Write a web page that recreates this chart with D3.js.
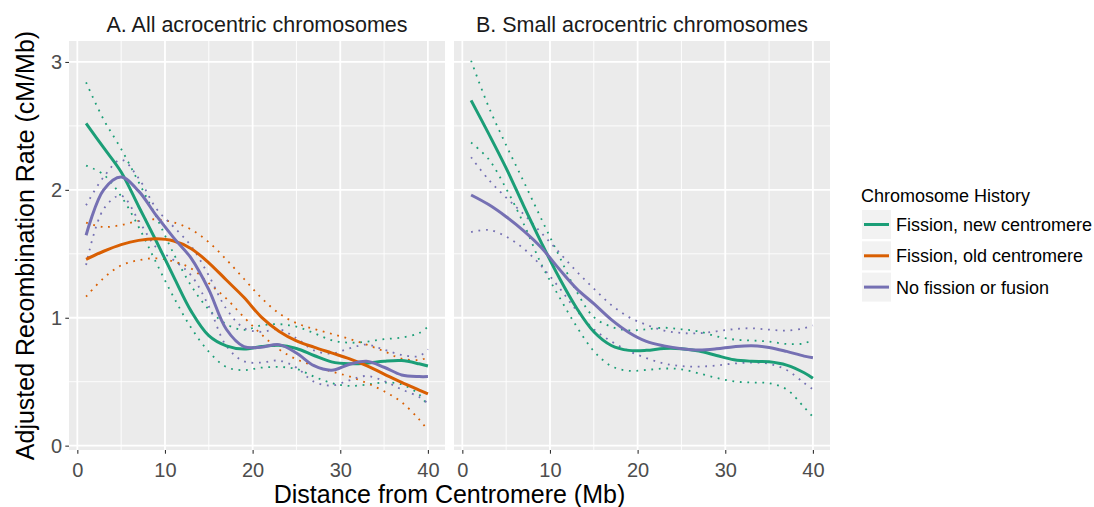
<!DOCTYPE html>
<html>
<head>
<meta charset="utf-8">
<script src="https://cdn.jsdelivr.net/npm/d3@7"></script>
<style>
  body { margin: 0; background: #fff; }
  svg { display: block; font-family: "Liberation Sans", Arial, Helvetica, sans-serif; }
</style>
</head>
<body>
<svg id="chart" width="1094" height="507"></svg>
<script>
/* Data: x positions (Mb) shared by every series */
var xs = [1, 3, 5, 7, 9, 11, 13, 15, 17, 19, 21, 23, 25, 27, 29, 31, 33, 35, 37, 39, 40];

var groups = ["Fission, new centromere", "Fission, old centromere", "No fission or fusion"];
var colors = ["#1B9E77", "#D95F02", "#7570B3"];
var panelTitles = ["A. All acrocentric chromosomes", "B. Small acrocentric chromosomes"];
var xTicks = [0, 10, 20, 30, 40];
var yTicks = [0, 1, 2, 3];

// Panel A - all acrocentric chromosomes
var aNewFit = [2.52, 2.33, 2.14, 1.87, 1.60, 1.32, 1.05, 0.86, 0.78, 0.755, 0.775, 0.785, 0.76, 0.705, 0.655, 0.64, 0.645, 0.66, 0.665, 0.64, 0.623];
var aNewUp  = [2.84, 2.55, 2.32, 2.06, 1.79, 1.50, 1.25, 1.065, 0.95, 0.905, 0.94, 0.95, 0.93, 0.88, 0.825, 0.805, 0.813, 0.833, 0.845, 0.88, 0.93];
var aNewLo  = [2.19, 2.12, 1.95, 1.71, 1.43, 1.16, 0.92, 0.735, 0.615, 0.59, 0.61, 0.615, 0.60, 0.54, 0.49, 0.467, 0.477, 0.493, 0.48, 0.40, 0.31];

var aOldFit = [1.457, 1.52, 1.572, 1.605, 1.617, 1.60, 1.54, 1.43, 1.295, 1.16, 1.005, 0.895, 0.82, 0.77, 0.725, 0.68, 0.625, 0.56, 0.495, 0.435, 0.404];
var aOldUp  = [1.744, 1.71, 1.725, 1.757, 1.77, 1.745, 1.69, 1.59, 1.455, 1.305, 1.155, 1.035, 0.958, 0.912, 0.875, 0.835, 0.79, 0.738, 0.68, 0.67, 0.688];
var aOldLo  = [1.165, 1.31, 1.41, 1.45, 1.465, 1.44, 1.385, 1.27, 1.15, 1.005, 0.87, 0.754, 0.675, 0.625, 0.58, 0.542, 0.49, 0.425, 0.34, 0.205, 0.12];

var aNoneFit = [1.645, 2.00, 2.10, 1.99, 1.80, 1.625, 1.465, 1.22, 0.91, 0.775, 0.77, 0.79, 0.725, 0.625, 0.59, 0.635, 0.66, 0.613, 0.553, 0.54, 0.54];
var aNoneUp  = [1.88, 2.10, 2.235, 2.09, 1.855, 1.71, 1.56, 1.33, 1.07, 0.92, 0.89, 0.91, 0.84, 0.745, 0.72, 0.76, 0.79, 0.75, 0.71, 0.70, 0.754];
var aNoneLo  = [1.413, 1.85, 1.955, 1.76, 1.55, 1.45, 1.33, 1.09, 0.78, 0.66, 0.65, 0.665, 0.61, 0.50, 0.47, 0.51, 0.545, 0.505, 0.44, 0.38, 0.33];

// Panel B - small acrocentric chromosomes (no "old centromere" group)
var bNewFit = [2.70, 2.44, 2.17, 1.875, 1.59, 1.32, 1.08, 0.89, 0.783, 0.745, 0.745, 0.76, 0.758, 0.74, 0.705, 0.672, 0.66, 0.656, 0.63, 0.57, 0.527];
var bNewUp  = [3.01, 2.65, 2.35, 2.065, 1.775, 1.49, 1.21, 1.005, 0.93, 0.902, 0.91, 0.922, 0.91, 0.893, 0.855, 0.83, 0.822, 0.814, 0.795, 0.80, 0.83];
var bNewLo  = [2.37, 2.24, 2.01, 1.735, 1.42, 1.17, 0.936, 0.74, 0.622, 0.585, 0.592, 0.603, 0.597, 0.565, 0.53, 0.502, 0.494, 0.488, 0.44, 0.30, 0.225];

var bNoneFit = [1.96, 1.885, 1.79, 1.68, 1.55, 1.385, 1.23, 1.11, 0.985, 0.885, 0.815, 0.78, 0.758, 0.748, 0.757, 0.774, 0.782, 0.768, 0.737, 0.70, 0.688];
var bNoneUp  = [2.255, 2.08, 1.94, 1.81, 1.665, 1.515, 1.365, 1.228, 1.10, 1.005, 0.945, 0.90, 0.881, 0.879, 0.894, 0.911, 0.918, 0.907, 0.90, 0.918, 0.94];
var bNoneLo  = [1.67, 1.687, 1.635, 1.54, 1.405, 1.24, 1.06, 0.91, 0.815, 0.74, 0.685, 0.642, 0.622, 0.618, 0.627, 0.642, 0.649, 0.64, 0.592, 0.49, 0.44];

var panels = [
  { title: panelTitles[0], left: 69, yAxis: true, series: [
      { g: 0, fit: aNewFit, up: aNewUp, lo: aNewLo },
      { g: 1, fit: aOldFit, up: aOldUp, lo: aOldLo },
      { g: 2, fit: aNoneFit, up: aNoneUp, lo: aNoneLo } ] },
  { title: panelTitles[1], left: 454, yAxis: false, series: [
      { g: 0, fit: bNewFit, up: bNewUp, lo: bNewLo },
      { g: 2, fit: bNoneFit, up: bNoneUp, lo: bNoneLo } ] }
];

var svg = d3.select("#chart");
var panelW = 376, panelTop = 41, panelBottom = 450;

var y = d3.scaleLinear().domain([-0.034, 3.164]).range([panelBottom, panelTop]);

function pts(vals) { return xs.map(function (d, i) { return [d, vals[i]]; }); }

panels.forEach(function (p) {
  var x = d3.scaleLinear().domain([-0.95, 41.95]).range([p.left, p.left + panelW]);
  var g = svg.append("g");

  // background
  g.append("rect")
    .attr("x", p.left).attr("y", panelTop)
    .attr("width", panelW).attr("height", panelBottom - panelTop)
    .attr("fill", "#EBEBEB");

  // minor grid
  g.selectAll(".mx").data([5, 15, 25, 35]).enter().append("line")
    .attr("x1", function (d) { return x(d); }).attr("x2", function (d) { return x(d); })
    .attr("y1", panelTop).attr("y2", panelBottom)
    .attr("stroke", "#fff").attr("stroke-width", 0.9);
  g.selectAll(".my").data([0.5, 1.5, 2.5]).enter().append("line")
    .attr("x1", p.left).attr("x2", p.left + panelW)
    .attr("y1", function (d) { return y(d); }).attr("y2", function (d) { return y(d); })
    .attr("stroke", "#fff").attr("stroke-width", 0.9);
  // major grid
  g.selectAll(".Mx").data(xTicks).enter().append("line")
    .attr("x1", function (d) { return x(d); }).attr("x2", function (d) { return x(d); })
    .attr("y1", panelTop).attr("y2", panelBottom)
    .attr("stroke", "#fff").attr("stroke-width", 1.8);
  g.selectAll(".My").data(yTicks).enter().append("line")
    .attr("x1", p.left).attr("x2", p.left + panelW)
    .attr("y1", function (d) { return y(d); }).attr("y2", function (d) { return y(d); })
    .attr("stroke", "#fff").attr("stroke-width", 1.8);

  var line = d3.line()
    .x(function (d) { return x(d[0]); })
    .y(function (d) { return y(d[1]); })
    .curve(d3.curveCatmullRom.alpha(0.5));

  // confidence bounds (dotted) first, fitted curves on top
  p.series.forEach(function (s) {
    [s.up, s.lo].forEach(function (v) {
      g.append("path")
        .attr("d", line(pts(v)))
        .attr("fill", "none")
        .attr("stroke", colors[s.g])
        .attr("stroke-width", 1.8)
        .attr("stroke-dasharray", "1.8,5.7");
    });
  });
  p.series.forEach(function (s) {
    g.append("path")
      .attr("d", line(pts(s.fit)))
      .attr("fill", "none")
      .attr("stroke", colors[s.g])
      .attr("stroke-width", 3);
  });

  // strip title
  svg.append("text")
    .attr("x", p.left + panelW / 2).attr("y", 32)
    .attr("text-anchor", "middle")
    .attr("font-size", "21.5px").attr("fill", "#1A1A1A")
    .text(p.title);

  // x axis
  var xa = svg.append("g")
    .attr("transform", "translate(0," + panelBottom + ")")
    .call(d3.axisBottom(x).tickValues(xTicks).tickFormat(d3.format("d")).tickSize(3.7).tickPadding(8.6));
  xa.select(".domain").remove();
  xa.selectAll(".tick line").attr("stroke", "#333333").attr("stroke-width", 1.1);
  xa.selectAll(".tick text").attr("fill", "#4D4D4D").attr("font-size", "20px")
    .attr("font-family", "Liberation Sans, Arial, sans-serif");

  if (p.yAxis) {
    var ya = svg.append("g")
      .attr("transform", "translate(" + p.left + ",0)")
      .call(d3.axisLeft(y).tickValues(yTicks).tickFormat(d3.format("d")).tickSize(3.7).tickPadding(3.3));
    ya.select(".domain").remove();
    ya.selectAll(".tick line").attr("stroke", "#333333").attr("stroke-width", 1.1);
    ya.selectAll(".tick text").attr("fill", "#4D4D4D").attr("font-size", "20px")
      .attr("font-family", "Liberation Sans, Arial, sans-serif");
  }
});

// axis titles
svg.append("text")
  .attr("x", 449.5).attr("y", 502.5)
  .attr("text-anchor", "middle")
  .attr("font-size", "25px").attr("fill", "#000")
  .text("Distance from Centromere (Mb)");

svg.append("text")
  .attr("transform", "translate(33.5," + (panelTop + panelBottom) / 2 + ") rotate(-90)")
  .attr("text-anchor", "middle")
  .attr("font-size", "25px").attr("fill", "#000")
  .text("Adjusted Recombination Rate (cM/Mb)");

// legend
var legend = svg.append("g");
legend.append("text")
  .attr("x", 861).attr("y", 202)
  .attr("font-size", "18px").attr("fill", "#000")
  .text("Chromosome History");

var keys = legend.selectAll(".key").data(groups).enter().append("g")
  .attr("transform", function (d, i) { return "translate(862," + (210 + i * 31.3) + ")"; });
keys.append("rect")
  .attr("width", 29).attr("height", 29)
  .attr("fill", "#F2F2F2");
keys.append("line")
  .attr("x1", 2).attr("x2", 27).attr("y1", 14.5).attr("y2", 14.5)
  .attr("stroke", function (d, i) { return colors[i]; })
  .attr("stroke-width", 3);
keys.append("text")
  .attr("x", 34).attr("y", 14.5).attr("dy", "0.36em")
  .attr("font-size", "18px").attr("fill", "#000")
  .text(function (d) { return d; });
</script>
</body>
</html>
